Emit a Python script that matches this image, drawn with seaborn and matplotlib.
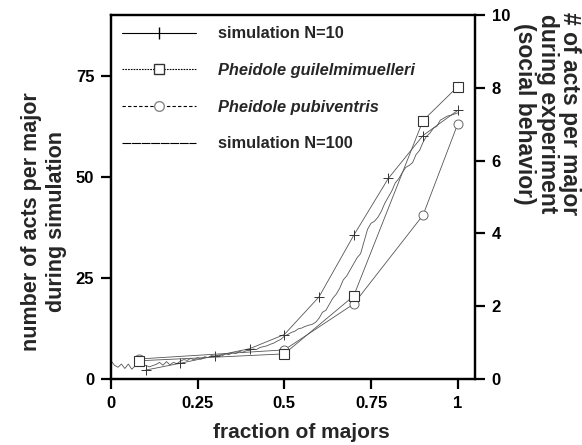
import numpy as np
import pandas as pd
import matplotlib
matplotlib.use("Agg")
import matplotlib.pyplot as plt
from matplotlib.lines import Line2D
import seaborn as sns

# ---------------- data ----------------
sim10_x = [0.1, 0.2, 0.3, 0.4, 0.5, 0.6, 0.7, 0.8, 0.9, 1.0]
sim10_y = [2.2, 3.9, 5.7, 7.5, 11.0, 20.3, 35.5, 49.6, 60.2, 66.4]

sim100_x = [round(i * 0.01, 2) for i in range(101)]
sim100_y = [4.5, 3.4, 2.9, 3.7, 2.6, 3.7, 2.4, 3.3, 3.6, 3.1,
            3.4, 3.0, 3.3, 3.6, 4.1, 3.4, 4.3, 3.5, 4.1, 3.8,
            4.4, 4.8, 4.6, 5.1, 4.7, 5.3, 4.9, 5.5, 5.3, 5.8,
            5.6, 5.9, 5.7, 6.2, 6.0, 6.5, 6.3, 6.8, 6.6, 7.0,
            7.1, 7.4, 7.3, 7.8, 8.0, 8.2, 8.6, 8.9, 9.4, 9.8,
            10.6, 11.0, 11.5, 11.8, 12.4, 12.6, 13.0, 13.3, 13.5, 14.0,
            15.0, 16.5, 17.0, 18.5, 20.0, 21.0, 22.5, 24.5, 25.5, 27.0,
            28.5, 30.0, 31.0, 34.0, 37.0, 38.5, 39.0, 40.0, 41.5, 43.5,
            45.0, 46.5, 48.5, 49.5, 51.0, 52.3, 52.8, 53.5, 55.5, 56.5,
            58.5, 60.0, 60.8, 62.0, 62.5, 64.0, 64.5, 65.0, 65.2, 65.5,
            65.8]

guil_x = [0.08, 0.5, 0.7, 0.9, 1.0]
guil_y = [0.5, 0.69, 2.28, 7.1, 8.03]

pubi_x = [0.08, 0.5, 0.7, 0.9, 1.0]
pubi_y = [0.55, 0.8, 2.06, 4.5, 7.0]

x_ticks = [0, 0.25, 0.5, 0.75, 1]
x_ticklabels = ["0", "0.25", "0.5", "0.75", "1"]
left_ticks = [0, 25, 50, 75]
right_ticks = [0, 2, 4, 6, 8, 10]

labels = ["simulation N=10", "Pheidole guilelmimuelleri",
          "Pheidole pubiventris", "simulation N=100"]

# ---------------- style ----------------
sns.set_theme(style="ticks")
plt.rcParams["font.family"] = ["Liberation Sans", "DejaVu Sans"]
plt.rcParams["font.weight"] = "bold"

line_col = "#555555"
lw = 0.6

fig = plt.figure(figsize=(5.82, 4.45), dpi=100)
ax = fig.add_axes([111 / 582, 1 - 379 / 445, (475 - 111) / 582, (379 - 15) / 445])
ax2 = ax.twinx()

df100 = pd.DataFrame({"x": sim100_x, "y": sim100_y})
df10 = pd.DataFrame({"x": sim10_x, "y": sim10_y})
dfg = pd.DataFrame({"x": guil_x, "y": guil_y})
dfp = pd.DataFrame({"x": pubi_x, "y": pubi_y})

sns.lineplot(data=df100, x="x", y="y", ax=ax, color=line_col, lw=lw, sort=False)
sns.lineplot(data=df10, x="x", y="y", ax=ax, color=line_col, lw=lw, sort=False,
             marker="+", markersize=7, markeredgewidth=0.7, markeredgecolor="#333333")
sns.lineplot(data=dfp, x="x", y="y", ax=ax2, color=line_col, lw=lw, sort=False,
             marker="o", markersize=6.5, markerfacecolor="white",
             markeredgecolor="#666666", markeredgewidth=0.7)
sns.lineplot(data=dfg, x="x", y="y", ax=ax2, color=line_col, lw=lw, sort=False,
             marker="s", markersize=6.5, markerfacecolor="white",
             markeredgecolor="#333333", markeredgewidth=0.8)

ax.set_xlim(0, 1.05)
ax.set_ylim(0, 90)
ax2.set_ylim(0, 10)
ax.set_xticks(x_ticks)
ax.set_xticklabels(x_ticklabels)
ax.set_yticks(left_ticks)
ax2.set_yticks(right_ticks)

for a in (ax, ax2):
    for s in a.spines.values():
        s.set_visible(True)
        s.set_linewidth(1.6)
        s.set_color("black")
    a.tick_params(direction="out", length=7, width=1.6, labelsize=12,
                  colors="black", pad=5)
for lab in ax.get_xticklabels() + ax.get_yticklabels() + ax2.get_yticklabels():
    lab.set_fontweight("bold")

ax.set_xlabel("fraction of majors", fontsize=15, fontweight="bold")
ax.xaxis.set_label_coords((301 - 111) / 364, (379 - 433) / 364)
ax.xaxis.label.set_va("center")

ax.set_ylabel("number of acts per major\nduring simulation", fontsize=15.5,
              fontweight="bold", linespacing=1.3)
ax.yaxis.set_label_coords((44 - 111) / 364, (379 - 222) / 364)
ax.yaxis.label.set_va("center")
ax.yaxis.label.set_ha("center")

ax2.set_ylabel("# of acts per major\nduring experiment\n(social behavior)",
               fontsize=16.5, fontweight="bold", rotation=270, linespacing=0.95)
ax2.yaxis.set_label_coords((547 - 111) / 364, (379 - 114) / 364)
ax2.yaxis.label.set_va("center")
ax2.yaxis.label.set_ha("center")

handles = [
    Line2D([], [], color="black", lw=0.8, marker="|", markersize=8),
    Line2D([], [], color="black", lw=0.8, ls=(0, (1.5, 1)), marker="s",
           markersize=7, markerfacecolor="white", markeredgecolor="#333333"),
    Line2D([], [], color="black", lw=0.8, ls=(0, (3, 2)), marker="o",
           markersize=7, markerfacecolor="white", markeredgecolor="#888888"),
    Line2D([], [], color="black", lw=0.8, ls=(0, (8, 0.6))),
]
leg = ax.legend(handles, labels, loc="upper left", bbox_to_anchor=(0.0, 1.0),
                frameon=False, handlelength=4.5, handletextpad=1.35,
                labelspacing=1.32, fontsize=11.8, borderaxespad=0.3)
for i, t in enumerate(leg.get_texts()):
    t.set_fontweight("bold")
    if i in (1, 2):
        t.set_fontstyle("italic")

fig.savefig("out.png", dpi=100)
